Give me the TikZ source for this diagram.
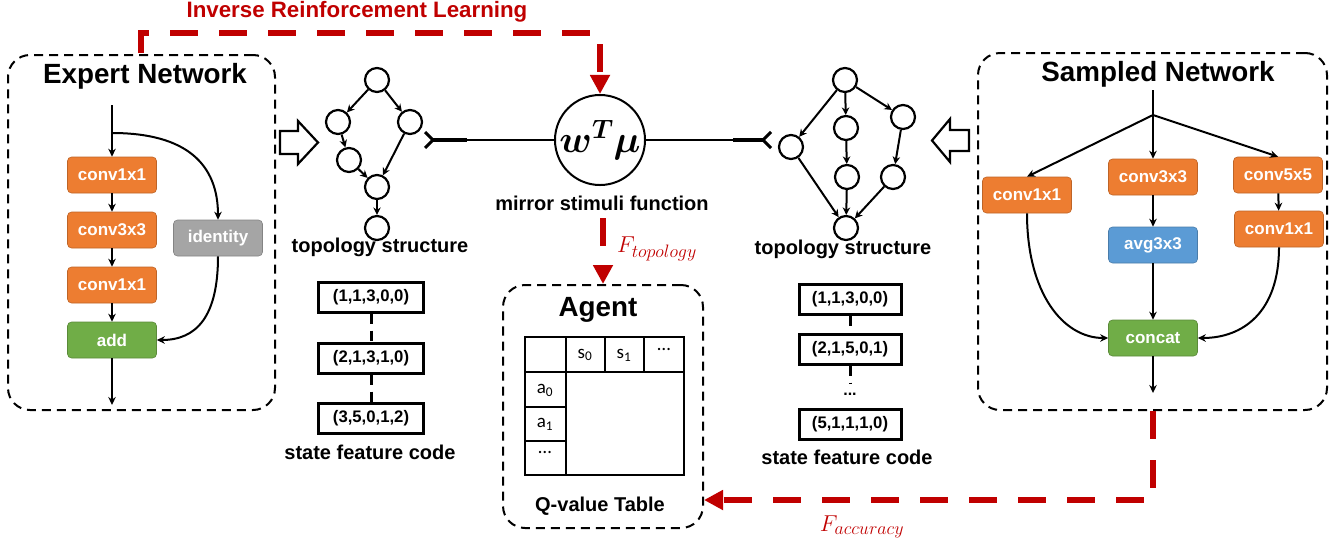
\RequirePackage{fix-cm}
\documentclass[tikz,border=0pt]{standalone}
\usepackage{fontspec}
\usepackage{bm}
\setmainfont{Liberation Sans}
\newfontfamily\calfont{Carlito}
\DeclareMathSizes{23}{23}{18}{13}
\usetikzlibrary{arrows.meta,calc,positioning}

\definecolor{convorange}{HTML}{ED7D31}
\definecolor{addgreen}{HTML}{70AD47}
\definecolor{idgray}{HTML}{A5A5A5}
\definecolor{poolblue}{HTML}{5B9BD5}
\definecolor{irlred}{HTML}{C00000}

\tikzset{
  layer/.style={rectangle, rounded corners=4pt, minimum width=89pt, minimum height=36pt, inner sep=0pt,
    line width=0.6pt, draw=#1!80!black, fill=#1, text=white, font=\fontsize{17}{20}\selectfont\bfseries},
  netbox/.style={draw, rectangle, rounded corners=22pt, line width=2pt, dash pattern=on 9pt off 6pt},
  flow/.style={-{Stealth[length=8pt,width=7.5pt]}, line width=2pt},
  vert/.style={circle, draw, line width=2.2pt, minimum size=24pt, inner sep=0pt},
  topoarrow/.style={-{Stealth[length=7.5pt,width=7.5pt]}, line width=2pt},
  codebox/.style={draw, rectangle, line width=3pt, minimum height=30pt, inner sep=0pt,
    font=\fontsize{16.7}{20}\selectfont\bfseries},
  codelink/.style={line width=3pt, dash pattern=on 10pt off 7pt},
  tagtext/.style={font=\fontsize{20}{24}\selectfont\bfseries, inner sep=0pt},
  boxtitle/.style={font=\fontsize{27.8}{32}\selectfont\bfseries, inner sep=0pt},
  hollow/.style={draw, line width=2.2pt, line join=miter},
  feedback/.style={draw=irlred, line width=6pt, dash pattern=on 28pt off 21pt,
    -{Triangle[length=19pt,width=19pt]}},
  flabel/.style={text=irlred, font=\fontsize{23}{26}\selectfont, inner sep=0pt},
  qcell/.style={font=\calfont\fontsize{19}{22}\selectfont, inner sep=0pt},
}

\begin{document}
\begin{tikzpicture}[x=1pt, y=-1pt]
\useasboundingbox (0,0) rectangle (1335,544);

% Expert Network (left)
\node[netbox, minimum width=267pt, minimum height=355pt] (expert) at (141.5,232.5) {};
\node[boxtitle] (experttitle) at (145,76) {Expert Network};
\coordinate (expertin) at (112,105);
\coordinate (expertsplit) at (112,133);
\coordinate (expertout) at (112,405);
\node[layer=convorange] (econva) at (112,175) {conv1x1};
\node[layer=convorange] (econvb) at (112,230) {conv3x3};
\node[layer=convorange] (econvc) at (112,285) {conv1x1};
\node[layer=addgreen] (eadd) at (112,340) {add};
\node[layer=idgray] (eid) at (218,238) {identity};

\draw[flow] (expertin) -- (econva);
\draw[flow] (econva) -- (econvb);
\draw[flow] (econvb) -- (econvc);
\draw[flow] (econvc) -- (eadd);
\draw[flow] (eadd) -- (expertout);
\draw[flow] (expertsplit) .. controls +(75,0) and +(0,-55) .. (eid.north);
\draw[flow] (eid.south) .. controls +(0,60) and +(40,0) .. (eadd.east);

% Hollow arrow (expert -> topology)
\draw[hollow] (280,131) -- (298,131) -- (298,121) -- (318,142.5) -- (298,164) -- (298,154) -- (280,154) -- cycle;

% Topology structure (left)
\node[vert] (la) at (377,80) {};
\node[vert] (lb) at (338,122) {};
\node[vert] (lc) at (410,122) {};
\node[vert] (ld) at (349,160) {};
\node[vert] (le) at (377,187) {};
\node[vert] (lf) at (377,228) {};
\foreach \a/\b in {la/lb, la/lc, lb/ld, ld/le, lc/le, le/lf}
  \draw[topoarrow] (\a) -- (\b);
\node[tagtext] (ltopo) at (380,247) {topology structure};

% State feature code (left)
\node[codebox, minimum width=105pt] (lcodea) at (371,297) {(1,1,3,0,0)};
\node[codebox, minimum width=105pt] (lcodeb) at (371,358) {(2,1,3,1,0)};
\node[codebox, minimum width=105pt] (lcodec) at (371,418) {(3,5,0,1,2)};
\draw[codelink] (lcodea) -- (lcodeb);
\draw[codelink] (lcodeb) -- (lcodec);
\node[tagtext] (lcode) at (370,452) {state feature code};

% Mirror stimuli function (center)
\node[circle, draw, line width=2pt, minimum size=88pt, inner sep=0pt] (mu) at (600,140)
  {\fontsize{38}{40}\selectfont$\bm{w^{T}\mu}$};
\node[tagtext] (msf) at (602,203) {mirror stimuli function};

% Forks into the topologies
\coordinate (lfork) at (433,140);
\coordinate (lstub) at (467,140);
\coordinate (rfork) at (763,140);
\coordinate (rstub) at (733,140);
\draw[line width=1.5pt] (lstub) -- (mu);
\draw[line width=1.5pt] (rstub) -- (mu);
\draw[line width=4pt] (lfork) -- (lstub);
\draw[line width=4pt] (rfork) -- (rstub);
\draw[line width=3pt] ($(lfork)+(-8,-8)$) -- (lfork) -- ($(lfork)+(-8,8)$);
\draw[line width=3pt] ($(rfork)+(8,-8)$) -- (rfork) -- ($(rfork)+(8,8)$);

% Topology structure (right)
\node[vert] (ra) at (845,80) {};
\node[vert] (rb) at (846,128) {};
\node[vert] (rc) at (903,117) {};
\node[vert] (rd) at (791,147) {};
\node[vert] (re) at (847,177) {};
\node[vert] (rf) at (893,177) {};
\node[vert] (rg) at (846,228) {};
\foreach \a/\b in {ra/rd, ra/rb, ra/rc, rb/re, rc/rf, rd/rg, re/rg, rf/rg}
  \draw[topoarrow] (\a) -- (\b);
\node[tagtext] (rtopo) at (843,249) {topology structure};

% State feature code (right)
\node[codebox, minimum width=102pt] (rcodea) at (850,299) {(1,1,3,0,0)};
\node[codebox, minimum width=102pt] (rcodeb) at (850,349) {(2,1,5,0,1)};
\coordinate (rgap) at (850,383);
\node[font=\fontsize{16}{18}\selectfont\bfseries, inner sep=0pt] (rdots) at (850,394) {...};
\node[codebox, minimum width=102pt] (rcodec) at (850,424) {(5,1,1,1,0)};
\draw[codelink] (rcodea) -- (rcodeb);
\draw[codelink] (rcodeb) -- (rgap);
\node[tagtext] (rcode) at (847,457) {state feature code};

% Hollow arrow (sampled -> topology)
\draw[hollow] (969,130) -- (950,130) -- (950,119) -- (932,140.5) -- (950,162) -- (950,151) -- (969,151) -- cycle;

% Sampled Network (right)
\node[netbox, minimum width=349pt, minimum height=357pt] (sampled) at (1152.5,231.5) {};
\node[boxtitle] (sampledtitle) at (1158,74) {Sampled Network};
\coordinate (sampledin) at (1153,90);
\coordinate (sampledsplit) at (1153,115);
\coordinate (sampledout) at (1153,393);
\node[layer=convorange] (sconva) at (1027,195) {conv1x1};
\node[layer=convorange] (sconvb) at (1153,177) {conv3x3};
\node[layer=convorange] (sconvc) at (1278,175) {conv5x5};
\node[layer=convorange] (sconvd) at (1279,229) {conv1x1};
\node[layer=poolblue] (savg) at (1153,245) {avg3x3};
\node[layer=addgreen] (sconcat) at (1153,338) {concat};

\draw[line width=2pt] (sampledin) -- (sampledsplit);
\draw[flow] (sampledsplit) -- (sconva.north);
\draw[flow] (sampledsplit) -- (sconvb);
\draw[flow] (sampledsplit) -- (sconvc.north);
\draw[flow] (sconvb) -- (savg);
\draw[flow] (savg) -- (sconcat);
\draw[flow] (sconvc) -- (sconvd);
\draw[flow] (sconva.south) .. controls +(0,80) and +(-45,0) .. (sconcat.west);
\draw[flow] (sconvd.south) .. controls +(0,65) and +(45,0) .. (sconcat.east);
\draw[flow] (sconcat) -- (sampledout);

% Agent with Q-value table (bottom center)
\node[netbox, minimum width=200pt, minimum height=243pt] (agent) at (603,406.5) {};
\node[boxtitle] (agenttitle) at (598,310) {Agent};
\draw[line width=2pt] (525,337) rectangle (684,475);
\draw[line width=2pt] (525,372) -- (684,372);
\draw[line width=2pt] (566,337) -- (566,475);
\draw[line width=1.5pt] (605,337) -- (605,372) (644,337) -- (644,372);
\draw[line width=1.5pt] (525,407) -- (566,407) (525,441) -- (566,441);
\node[qcell] (qsa) at (585,355) {s\textsubscript{0}};
\node[qcell] (qsb) at (624,355) {s\textsubscript{1}};
\node[qcell] (qsc) at (664,351) {\raisebox{4pt}{\ldots}};
\node[qcell] (qaa) at (545,390) {a\textsubscript{0}};
\node[qcell] (qab) at (545,424) {a\textsubscript{1}};
\node[qcell] (qac) at (545,454) {\raisebox{4pt}{\ldots}};
\node[tagtext] (qtable) at (600,506) {Q-value Table};

% Inverse reinforcement learning (red, top)
\node[font=\fontsize{22.3}{26}\selectfont\bfseries, text=irlred, inner sep=0pt] (irltitle) at (357,12) {Inverse Reinforcement Learning};
\coordinate (irlstart) at (141,53);
\coordinate (irltop) at (141,33);
\draw[feedback] (irlstart) -- (irltop) -| (mu.north);

% Topology reward
\coordinate (ftop) at (603,218);
\draw[feedback] (ftop) -- (agent.north);
\node[flabel, anchor=west] (ftopo) at (617,249) {$F_{topology}$};

% Accuracy reward
\coordinate (accturn) at (1152.5,500);
\draw[feedback] (sampled.south) -- (accturn) -- (agent.east |- accturn);
\node[flabel] (facc) at (862,527) {$F_{accuracy}$};

\end{tikzpicture}
\end{document}
